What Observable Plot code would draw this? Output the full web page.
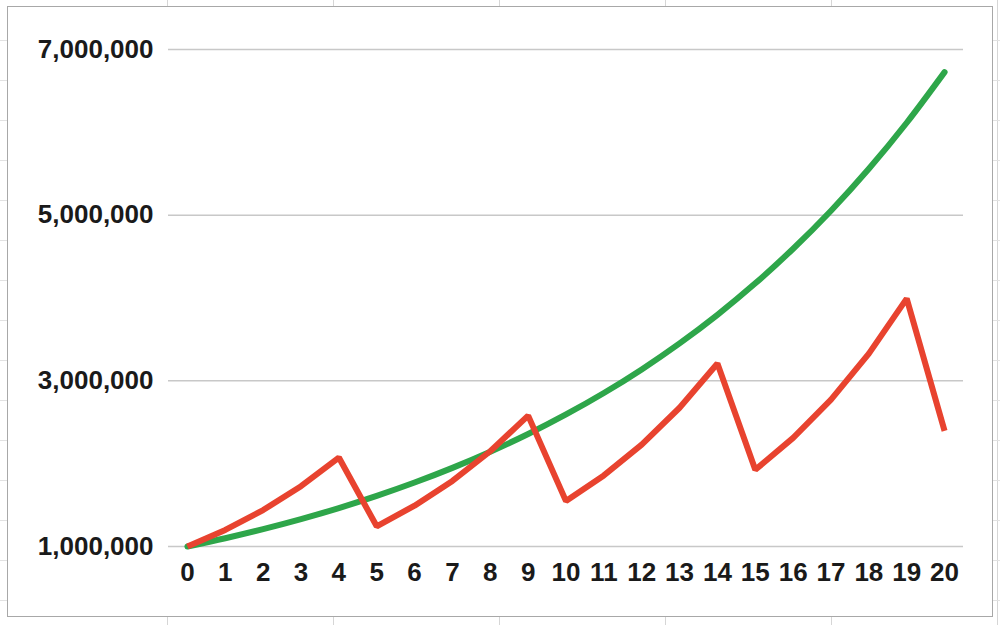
<!DOCTYPE html>
<html>
<head>
<meta charset="utf-8">
<script src="https://cdn.jsdelivr.net/npm/d3@7"></script>
<script src="https://cdn.jsdelivr.net/npm/@observablehq/plot@0.6"></script>
<style>
  html, body { margin: 0; padding: 0; background: #fff; }
  #page { position: relative; width: 1000px; height: 625px; overflow: hidden; background: #fff; }
  .cellv { position: absolute; top: 0; width: 1px; height: 625px; background: #d6d6d6; }
  .cellh { position: absolute; left: 0; height: 1px; width: 1000px; background: #e2e2e2; }
  #box { position: absolute; left: 7px; top: 6px; width: 984px; height: 609px; border: 1.5px solid #a8a8a8; background: #fff; }
  #chart { position: absolute; left: 0; top: 0; }
</style>
</head>
<body>
<div id="page">
  <div class="cellv" style="left:167px"></div>
  <div class="cellv" style="left:333px"></div>
  <div class="cellv" style="left:499px"></div>
  <div class="cellv" style="left:665px"></div>
  <div class="cellv" style="left:831px"></div>
  <div class="cellv" style="left:997px"></div>
  <div class="cellh" style="top:40px"></div>
  <div class="cellh" style="top:80px"></div>
  <div class="cellh" style="top:120px"></div>
  <div class="cellh" style="top:160px"></div>
  <div class="cellh" style="top:200px"></div>
  <div class="cellh" style="top:240px"></div>
  <div class="cellh" style="top:280px"></div>
  <div class="cellh" style="top:320px"></div>
  <div class="cellh" style="top:360px"></div>
  <div class="cellh" style="top:400px"></div>
  <div class="cellh" style="top:440px"></div>
  <div class="cellh" style="top:480px"></div>
  <div class="cellh" style="top:520px"></div>
  <div class="cellh" style="top:560px"></div>
  <div class="cellh" style="top:600px"></div>
  <div id="box"></div>
  <div id="chart"></div>
</div>
<script>
const years = [0,1,2,3,4,5,6,7,8,9,10,11,12,13,14,15,16,17,18,19,20];
const steady = [1000000,1100000,1210000,1331000,1464000,1611000,1772000,1949000,2144000,2358000,2594000,2853000,3138000,3452000,3797000,4177000,4595000,5054000,5560000,6116000,6727000];
const cyclical = [1000000,1200000,1440000,1728000,2074000,1244000,1493000,1792000,2150000,2580000,1548000,1858000,2229000,2675000,3210000,1926000,2311000,2773000,3328000,3993000,2396000];
const yTicks = [1000000,3000000,5000000,7000000];

const greenData = years.map((x, i) => ({x, y: steady[i]}));
const redData = years.map((x, i) => ({x, y: cyclical[i]}));

const fmt = d3.format(",");

const chart = Plot.plot({
  width: 1000,
  height: 625,
  marginLeft: 168,
  marginRight: 37,
  marginTop: 49,
  marginBottom: 79,
  style: { background: "transparent", fontFamily: "'Liberation Sans', Arial, sans-serif", fontSize: "26px", fontWeight: "bold", color: "#1a1a1a" },
  x: { domain: [-0.5, 20.5], ticks: years, tickSize: 0, tickPadding: 16, tickFormat: d => String(d), label: null },
  y: { domain: [1000000, 7000000], ticks: yTicks, tickSize: 0, tickPadding: 15, tickFormat: fmt, label: null },
  marks: [
    Plot.ruleY(yTicks, { stroke: "#c8c8c8", strokeWidth: 1.5 }),
    Plot.line(greenData, { x: "x", y: "y", stroke: "#2ea64a", strokeWidth: 6, curve: "monotone-x" }),
    Plot.line(redData, { x: "x", y: "y", stroke: "#e8432f", strokeWidth: 6, strokeLinejoin: "miter", strokeLinecap: "butt" })
  ]
});
document.getElementById("chart").appendChild(chart);
</script>
</body>
</html>
